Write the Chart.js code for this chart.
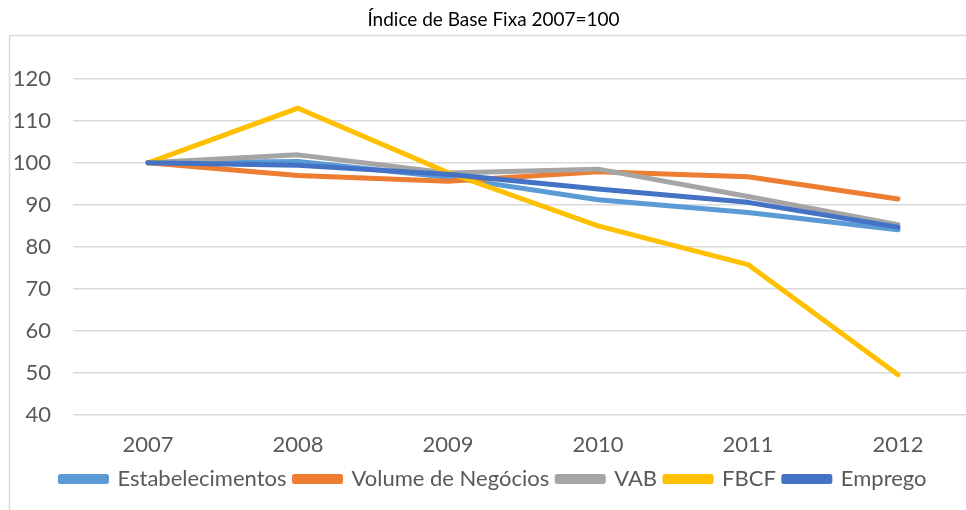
<!DOCTYPE html>
<html>
<head>
<meta charset="utf-8">
<script src="https://cdn.jsdelivr.net/npm/chart.js@4/dist/chart.umd.min.js"></script>
<style>
  html, body { margin: 0; padding: 0; background: #fff; overflow: hidden; }
  #wrap { position: relative; width: 992px; height: 510px; }
</style>
</head>
<body>
<div id="wrap"><canvas id="chart"></canvas></div>
<script>
// data
const years = ['2007', '2008', '2009', '2010', '2011', '2012'];
const estabelecimentos = [100, 100.3, 96.6, 91.2, 88.2, 84.1];
const volumeNegocios = [100, 97.0, 95.6, 97.9, 96.7, 91.4];
const vab = [100, 101.9, 97.6, 98.5, 92.0, 85.3];
const fbcf = [100, 113.0, 97.7, 85.0, 75.8, 49.6];
const emprego = [100, 99.4, 97.3, 93.8, 90.6, 84.7];

const series = [
  { label: 'Estabelecimentos', data: estabelecimentos, color: '#5B9BD5', order: 5 },
  { label: 'Volume de Negócios', data: volumeNegocios, color: '#ED7D31', order: 4 },
  { label: 'VAB', data: vab, color: '#A5A5A5', order: 3 },
  { label: 'FBCF', data: fbcf, color: '#FFC000', order: 2 },
  { label: 'Emprego', data: emprego, color: '#4472C4', order: 1 }
];

const textColor = '#595959';
const fontFamily = "Lato, 'Liberation Sans', sans-serif";

// thin grey frame around the chart, as in the spreadsheet export
const framePlugin = {
  id: 'frame',
  beforeDraw(chart) {
    const ctx = chart.ctx;
    ctx.save();
    ctx.strokeStyle = '#d9d9d9';
    ctx.lineWidth = 1.5;
    ctx.beginPath();
    ctx.moveTo(9.5, chart.height);
    ctx.lineTo(9.5, 35.5);
    ctx.lineTo(chart.width, 35.5);
    ctx.stroke();
    ctx.restore();
  }
};

new Chart(document.getElementById('chart'), {
  type: 'line',
  data: {
    labels: years,
    datasets: series.map(s => ({
      label: s.label,
      data: s.data,
      borderColor: s.color,
      backgroundColor: s.color,
      borderWidth: 5,
      borderCapStyle: 'round',
      borderJoinStyle: 'round',
      pointRadius: 0,
      tension: 0,
      order: s.order
    }))
  },
  options: {
    responsive: true,
    maintainAspectRatio: false,
    animation: false,
    layout: { padding: { left: 14, right: 19, top: 0, bottom: 10 } },
    plugins: {
      title: {
        display: true,
        text: 'Índice de Base Fixa 2007=100',
        color: '#000',
        font: { family: fontFamily, size: 19, weight: 'normal' },
        padding: { top: 8, bottom: 48 }
      },
      legend: {
        position: 'bottom',
        labels: {
          color: textColor,
          font: { family: fontFamily, size: 22 },
          boxWidth: 46,
          boxHeight: 5,
          padding: 8,
          sort: (a, b) => a.datasetIndex - b.datasetIndex
        }
      },
      tooltip: { enabled: false }
    },
    scales: {
      x: {
        offset: true,
        grid: { display: false, offset: true, drawTicks: false },
        border: { display: false },
        ticks: { color: textColor, font: { family: fontFamily, size: 22 }, padding: 17 },
        afterFit(scale) { scale.height = 45; }
      },
      y: {
        min: 40,
        max: 120,
        ticks: { stepSize: 10, color: textColor, font: { family: fontFamily, size: 22 }, padding: 22 },
        grid: { color: '#d9d9d9', lineWidth: 1.5, drawTicks: false },
        border: { display: false },
        afterFit(scale) { scale.width = 59; }
      }
    }
  },
  plugins: [framePlugin]
});
</script>
</body>
</html>
